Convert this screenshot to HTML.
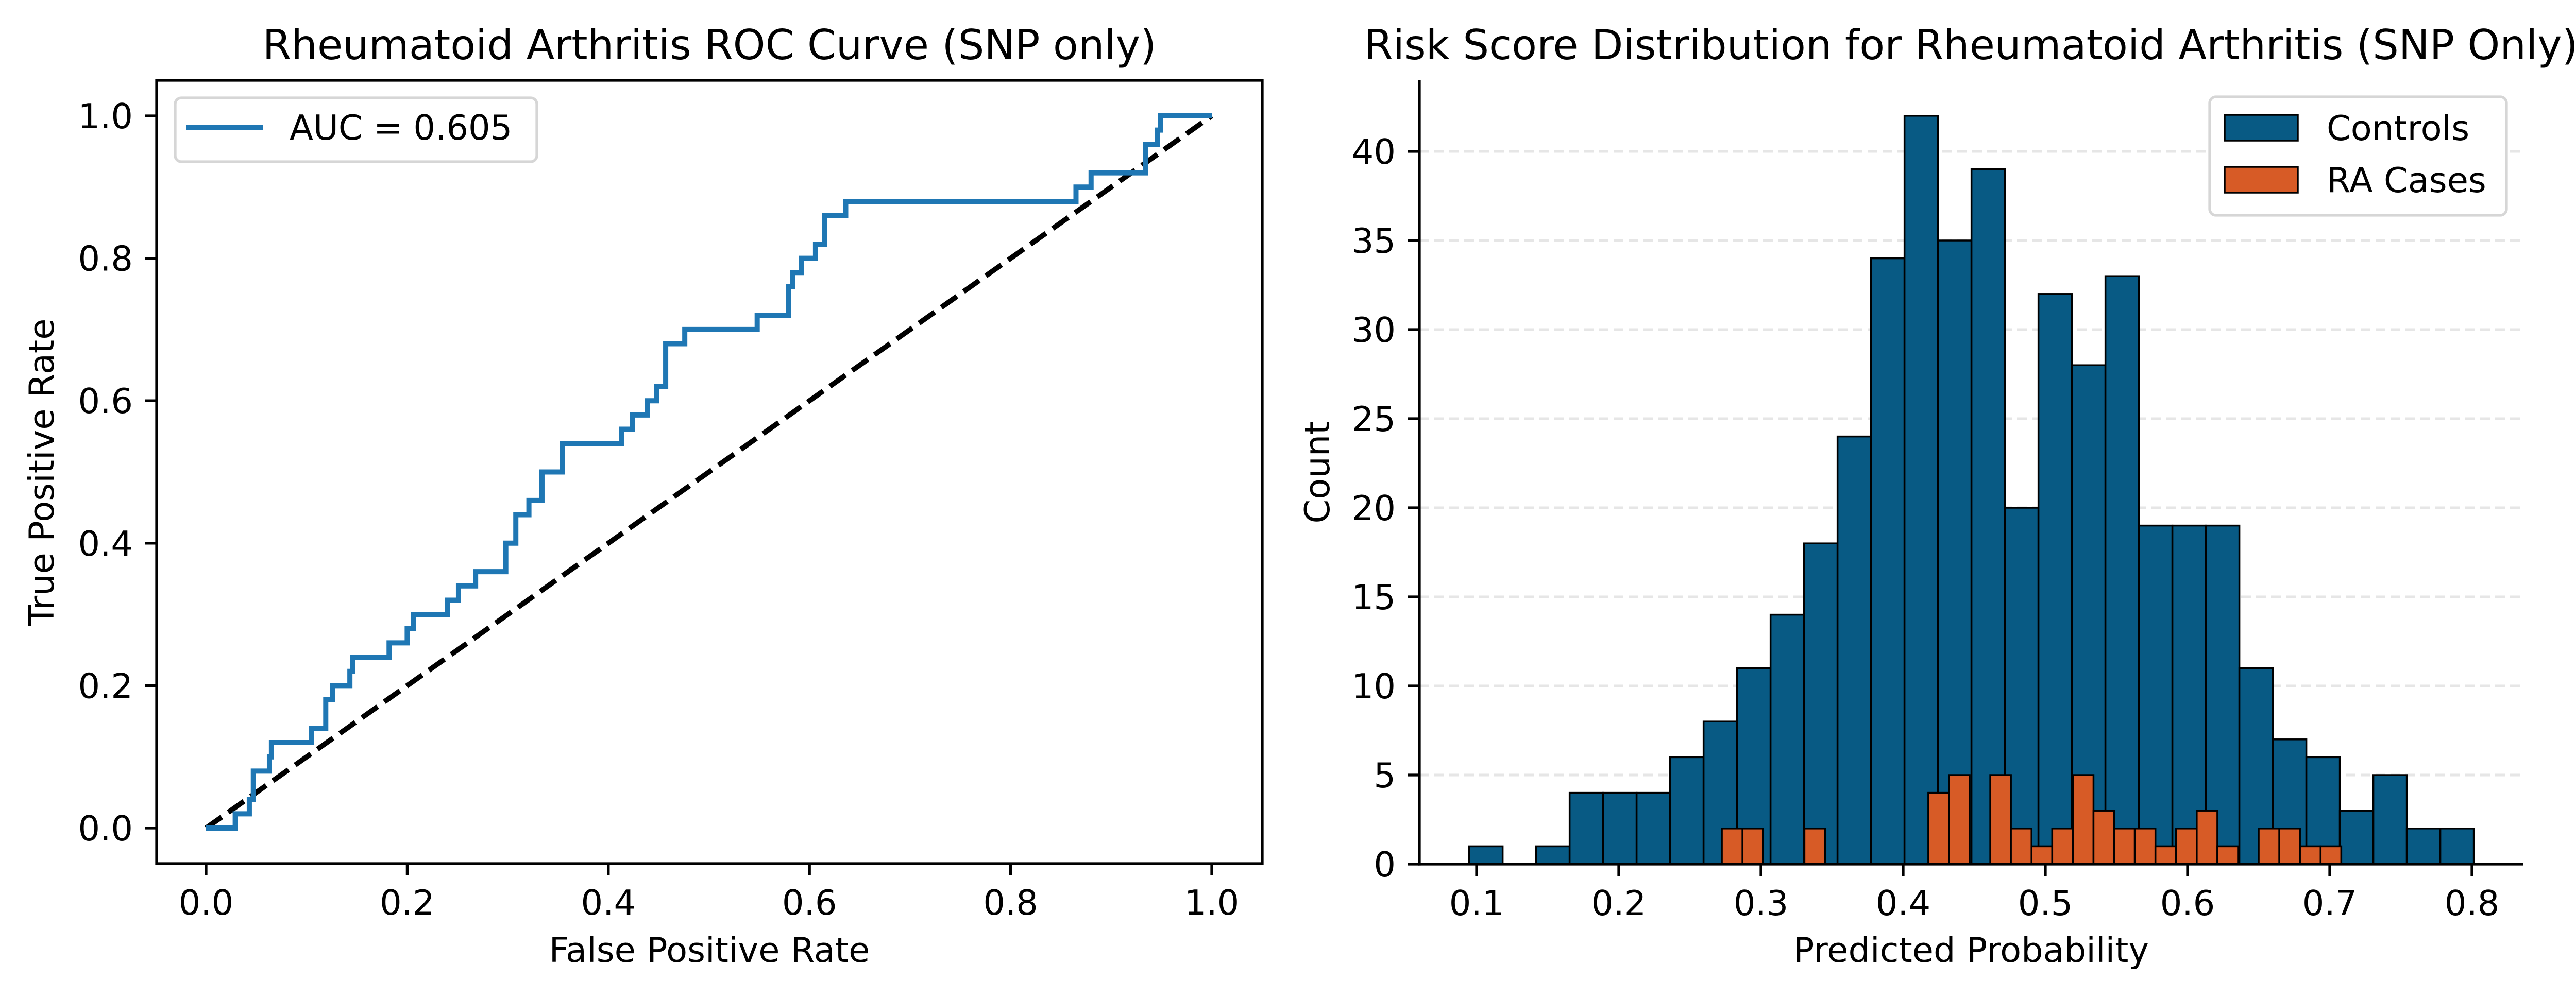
<!DOCTYPE html>
<html><head><meta charset="utf-8"><style>
html,body{margin:0;padding:0;background:#fff;}
svg{display:block;font-family:"DejaVu Sans","Liberation Sans",sans-serif;}
</style></head><body>
<svg id="fig" width="5105" height="1938" viewBox="0 0 5105 1938" xmlns="http://www.w3.org/2000/svg">
<rect width="5105" height="1938" fill="#fff"/>
<g id="roc"></g>
<g id="hist"></g>
</svg>
<script>
// ROC data
const rocFpr = [0.029,0.043,0.047,0.063,0.065,0.105,0.119,0.126,0.143,0.146,0.182,0.200,0.206,0.240,0.251,0.268,0.298,0.308,0.321,0.334,0.354,0.413,0.424,0.439,0.448,0.457,0.476,0.548,0.579,0.583,0.592,0.606,0.615,0.636,0.865,0.880,0.934,0.946,0.949];
const rocTpr = [0.02,0.04,0.08,0.10,0.12,0.14,0.18,0.20,0.22,0.24,0.26,0.28,0.30,0.32,0.34,0.36,0.40,0.44,0.46,0.50,0.54,0.56,0.58,0.60,0.62,0.68,0.70,0.72,0.76,0.78,0.80,0.82,0.86,0.88,0.90,0.92,0.96,0.98,1.0];
const rocTicks = [0,0.2,0.4,0.6,0.8,1.0];
const rocTickLabels = ["0.0","0.2","0.4","0.6","0.8","1.0"];
const aucLabel = "AUC = 0.605";
// Histogram data
const ctrlStart = 0.0948, ctrlWidth = 0.02355;
const ctrlCounts = [1,0,1,4,4,4,6,8,11,14,18,24,34,42,35,39,20,32,28,33,19,19,19,11,7,6,3,5,2,2];
const caseStart = 0.2725, caseWidth = 0.01452;
const caseCounts = [2,2,0,0,2,0,0,0,0,0,4,5,0,5,2,1,2,5,3,2,2,1,2,3,1,0,2,2,1,1];
const histXTicks = [0.1,0.2,0.3,0.4,0.5,0.6,0.7,0.8];
const histXTickLabels = ["0.1","0.2","0.3","0.4","0.5","0.6","0.7","0.8"];
const histYTicks = [0,5,10,15,20,25,30,35,40];

const NS="http://www.w3.org/2000/svg";
function mk(parent,tag,attrs,text){const e=document.createElementNS(NS,tag);for(const k in attrs)e.setAttribute(k,attrs[k]);if(text!==undefined)e.textContent=text;parent.appendChild(e);return e;}

// ---------- ROC ----------
const roc=document.getElementById('roc');
const rx=v=>400+v*1952, ry=v=>1608-v*1383;
const L=304,R=2450,T=156,B=1677;
// diagonal
let d=mk(roc,'line',{x1:rx(0),y1:ry(0),x2:rx(1),y2:ry(1),stroke:'#000','stroke-width':10,'stroke-dasharray':'37 16'});


let p='M'+rx(0)+' '+ry(0);
for(let i=0;i<rocFpr.length;i++){p+=' H'+rx(rocFpr[i])+' V'+ry(rocTpr[i]);}
p+=' H'+rx(1);
let rl=mk(roc,'path',{d:p,fill:'none',stroke:'#1f77b4','stroke-width':10,'stroke-linejoin':'miter'});


let fr=mk(roc,'rect',{x:L,y:T,width:R-L,height:B-T,fill:'none',stroke:'#000','stroke-width':5.3});


rocTicks.forEach((t,i)=>{
  mk(roc,'line',{x1:rx(t),y1:B,x2:rx(t),y2:B+23,stroke:'#000','stroke-width':5.3});
  let tl=mk(roc,'text',{x:rx(t),y:1776,'font-size':67,'text-anchor':'middle'},rocTickLabels[i]);
  
  
  mk(roc,'line',{x1:L-23,y1:ry(t),x2:L,y2:ry(t),stroke:'#000','stroke-width':5.3});
  let yl=mk(roc,'text',{x:258,y:ry(t)+24,'font-size':67,'text-anchor':'end'},rocTickLabels[i]);
  
  
});
let t1=mk(roc,'text',{x:1377,y:115,'font-size':80,'text-anchor':'middle'},'Rheumatoid Arthritis ROC Curve (SNP only)');


let xt1=mk(roc,'text',{x:1377,y:1868,'font-size':67,'text-anchor':'middle'},'False Positive Rate');


let yt1=mk(roc,'text',{x:0,y:0,'font-size':67,'text-anchor':'middle',transform:'translate(104,917) rotate(-90)'},'True Positive Rate');


let lg=mk(roc,'g',{});


mk(lg,'rect',{x:340,y:190,width:702,height:124,rx:12,fill:'#fff',stroke:'#d6d6d6','stroke-width':5.3});
mk(lg,'line',{x1:361,y1:247,x2:510,y2:247,stroke:'#1f77b4','stroke-width':10});
mk(lg,'text',{x:562,y:271,'font-size':67},aucLabel);

// ---------- Histogram ----------
const h=document.getElementById('hist');
const hx=v=>2866+(v-0.1)*2760, hy=v=>1678-v*34.6;
const HL=2755,HR=4897,HT=156,HB=1678;
histYTicks.forEach(t=>{
  if(t>0){let g=mk(h,'line',{x1:HL,y1:hy(t),x2:HR,y2:hy(t),stroke:'#e6e6e6','stroke-width':5,'stroke-dasharray':'19 10'});
  
  }
});
ctrlCounts.forEach((c,i)=>{
  if(c<=0)return;
  const x0=hx(ctrlStart+i*ctrlWidth),x1=hx(ctrlStart+(i+1)*ctrlWidth);
  let b=mk(h,'rect',{x:x0,y:hy(c),width:x1-x0,height:hy(0)-hy(c),fill:'#085a84',stroke:'#000','stroke-width':3.5});
  
  
});
caseCounts.forEach((c,i)=>{
  if(c<=0)return;
  const x0=hx(caseStart+i*caseWidth),x1=hx(caseStart+(i+1)*caseWidth);
  let b=mk(h,'rect',{x:x0,y:hy(c),width:x1-x0,height:hy(0)-hy(c),fill:'#d75b26',stroke:'#000','stroke-width':3.5});
  
  
});
mk(h,'line',{x1:HL,y1:HT,x2:HL,y2:HB+2.6,stroke:'#000','stroke-width':5.3});
mk(h,'line',{x1:HL-2.6,y1:HB,x2:HR,y2:HB,stroke:'#000','stroke-width':5.3});
histXTicks.forEach((t,i)=>{
  mk(h,'line',{x1:hx(t),y1:HB,x2:hx(t),y2:HB+23,stroke:'#000','stroke-width':5.3});
  let tl=mk(h,'text',{x:hx(t),y:1777,'font-size':67,'text-anchor':'middle'},histXTickLabels[i]);
  
  
});
histYTicks.forEach(t=>{
  mk(h,'line',{x1:HL-23,y1:hy(t),x2:HL,y2:hy(t),stroke:'#000','stroke-width':5.3});
  let yl=mk(h,'text',{x:2709,y:hy(t)+24,'font-size':67,'text-anchor':'end'},String(t));
  
  
});
let t2=mk(h,'text',{x:3826,y:115,'font-size':80,'text-anchor':'middle'},'Risk Score Distribution for Rheumatoid Arthritis (SNP Only)');


let xt2=mk(h,'text',{x:3826,y:1868,'font-size':67,'text-anchor':'middle'},'Predicted Probability');


let yt2=mk(h,'text',{x:0,y:0,'font-size':67,'text-anchor':'middle',transform:'translate(2580,917) rotate(-90)'},'Count');


let lg2=mk(h,'g',{});


mk(lg2,'rect',{x:4289,y:188,width:576,height:230,rx:12,fill:'#fff',stroke:'#d6d6d6','stroke-width':5.3});
mk(lg2,'rect',{x:4318,y:223,width:142,height:50,fill:'#085a84',stroke:'#000','stroke-width':3.5});
mk(lg2,'text',{x:4516,y:272,'font-size':67},'Controls');
mk(lg2,'rect',{x:4318,y:324,width:142,height:50,fill:'#d75b26',stroke:'#000','stroke-width':3.5});
mk(lg2,'text',{x:4516,y:373,'font-size':67},'RA Cases');
</script>
</body></html>
